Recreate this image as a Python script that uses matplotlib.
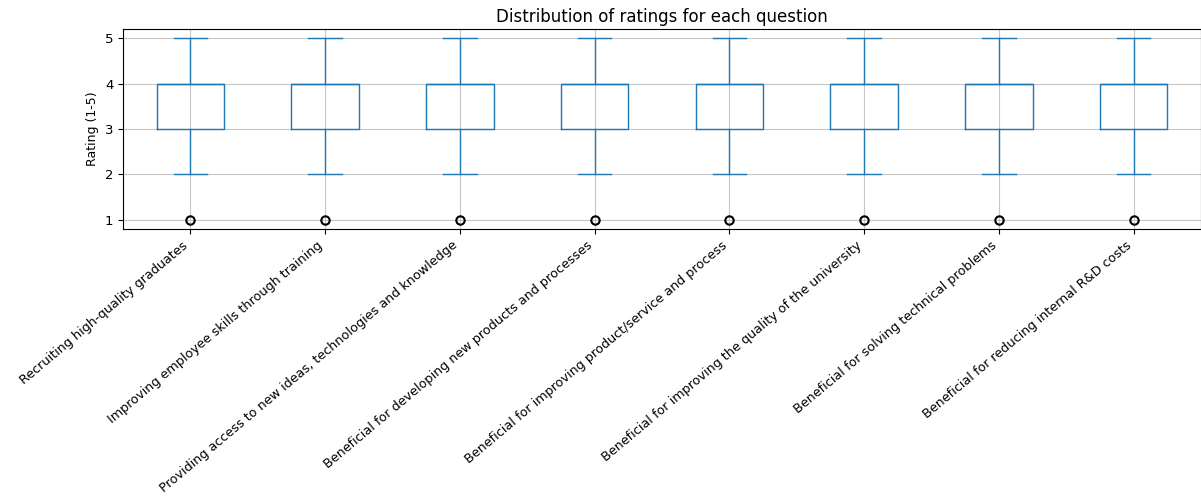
import matplotlib
matplotlib.use("Agg")
import matplotlib.pyplot as plt

questions = [
    "Recruiting high-quality graduates",
    "Improving employee skills through training",
    "Providing access to new ideas, technologies and knowledge",
    "Beneficial for developing new products and processes",
    "Beneficial for improving product/service and process",
    "Beneficial for improving the quality of the university",
    "Beneficial for solving technical problems",
    "Beneficial for reducing internal R&D costs",
]

# five-number summaries per question (rating scale 1-5)
whis_low = [2, 2, 2, 2, 2, 2, 2, 2]
q1 = [3, 3, 3, 3, 3, 3, 3, 3]
median = [4, 4, 4, 4, 4, 4, 4, 4]
q3 = [4, 4, 4, 4, 4, 4, 4, 4]
whis_high = [5, 5, 5, 5, 5, 5, 5, 5]
outliers = [[1], [1], [1], [1], [1], [1], [1], [1]]
yticks = [1, 2, 3, 4, 5]

stats = []
for i, q in enumerate(questions):
    stats.append({"label": q, "whislo": whis_low[i], "q1": q1[i], "med": median[i],
                  "q3": q3[i], "whishi": whis_high[i], "fliers": outliers[i]})

fig = plt.figure(figsize=(12.01, 5.01), dpi=100)
ax = fig.add_axes([123 / 1201, 1 - 229 / 501, (1201 - 123) / 1201, 200 / 501])

c = "#1f77b4"
ax.bxp(stats, widths=0.5,
       boxprops=dict(color=c), whiskerprops=dict(color=c), capprops=dict(color=c),
       medianprops=dict(color=c),
       flierprops=dict(marker="o", markerfacecolor="none", markeredgecolor="black",
                       markersize=6, markeredgewidth=1.5))
ax.set_ylim(0.8, 5.2)
ax.set_yticks(yticks)
ax.grid(True, color="#b0b0b0", linewidth=0.8, alpha=0.7)
ax.set_axisbelow(True)

ax.set_title("Distribution of ratings for each question", fontsize=12, pad=5)
ax.set_ylabel("Rating (1-5)", fontsize=9)
ax.tick_params(axis="y", labelsize=9.5)
ax.tick_params(axis="x", labelsize=9.2)
plt.setp(ax.get_xticklabels(), rotation=40, ha="right", rotation_mode="default")

fig.savefig("out.png", dpi=100)
